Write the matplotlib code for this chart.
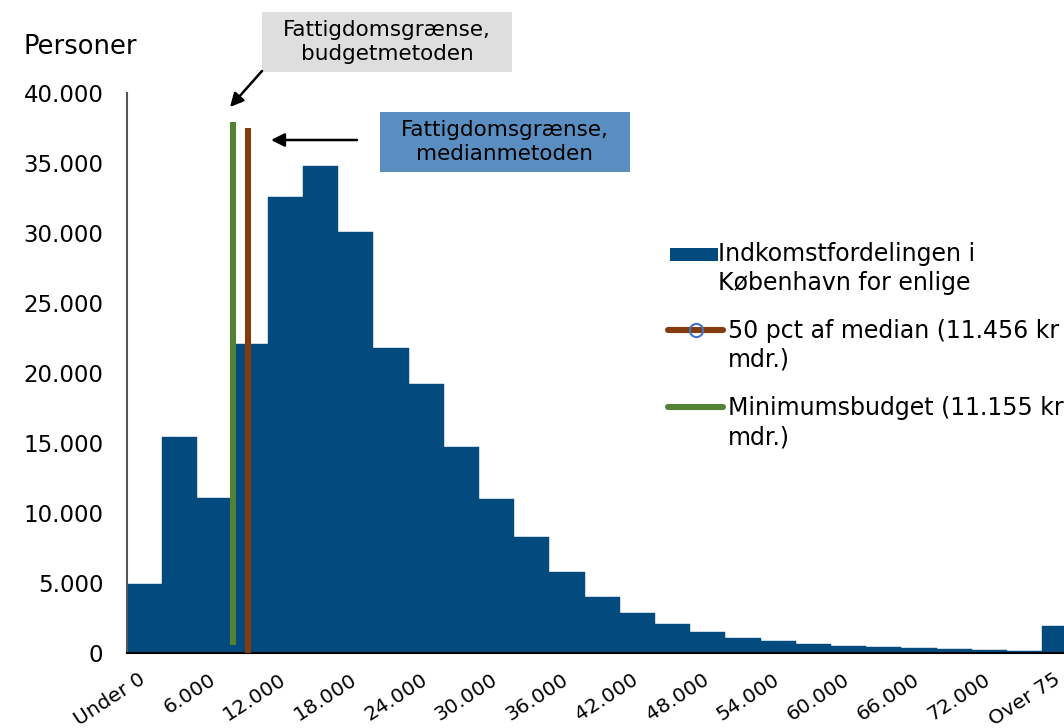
import numpy as np
import matplotlib.pyplot as plt
from matplotlib.lines import Line2D
from matplotlib.patches import Rectangle
from matplotlib.transforms import ScaledTranslation

plt.rcParams['font.family'] = ['DejaVu Sans']

# income groups (kr per month), tick labels shown on every second group
categories = ['Under 0'] + ['{:,}'.format(v).replace(',', '.') for v in range(3000, 75001, 3000)] + ['Over 75']
persons = [4950, 15400, 11100, 22100, 32600, 34800, 30100, 21800, 19200, 14700,
           11000, 8300, 5760, 4000, 2840, 2050, 1480, 1070, 840, 640,
           500, 430, 340, 260, 190, 160, 1900]

# poverty lines (kr per month) and the extent of the vertical lines (persons)
median_line = 11456
median_span = [0, 37500]
budget_line = 11155
budget_span = [600, 37900]

bar_color = '#034A7E'
green = '#548235'
brown = '#843C0C'

W, H = 1064, 728


def fx(px):
    return px / W


def fy(py):
    return 1 - py / H


fig = plt.figure(figsize=(10.64, 7.28), dpi=100)
ax = fig.add_axes([0.1194, 0.103, 0.8806, 0.7692])

x = np.arange(len(categories))
ax.bar(x, persons, width=1.0, color=bar_color, edgecolor=bar_color, linewidth=0.3)
ax.set_xlim(-0.5, 26.12)
ax.set_ylim(0, 40000)
ax.set_yticks(np.arange(0, 40001, 5000))
ax.set_yticklabels(['{:,}'.format(v).replace(',', '.') for v in range(0, 40001, 5000)], fontsize=16.5)
ax.set_xticks(x[::2])
ax.set_xticklabels(categories[::2], rotation=33, ha='right', va='top',
                   rotation_mode='anchor', fontsize=14.5)
ax.tick_params(axis='y', length=0, pad=17)
ax.tick_params(axis='x', length=0, pad=12)
for lab in ax.get_xticklabels():
    lab.set_transform(lab.get_transform() + ScaledTranslation(-0.06, 0, fig.dpi_scale_trans))
for s in ['top', 'right']:
    ax.spines[s].set_visible(False)
ax.spines['left'].set_color('#555555')
ax.spines['left'].set_linewidth(1.5)
ax.spines['bottom'].set_color('black')
ax.spines['bottom'].set_linewidth(1.5)

# secondary x axis (kr) for the poverty lines
ax2 = ax.twiny()
ax2.set_xlim(9148, 26954)
ax2.set_ylim(0, 40000)
ax2.axis('off')
ax2.plot([budget_line, budget_line], budget_span, color=green, lw=4.4, solid_capstyle='butt')
ax2.plot([median_line, median_line], median_span, color=brown, lw=4.4, solid_capstyle='butt')

fig.text(fx(24), fy(47), 'Personer', fontsize=18.5, va='center', ha='left')

# annotation boxes with arrows
fig.add_artist(Rectangle((fx(262), fy(72)), fx(250), 60 / H, transform=fig.transFigure,
                         fc='#DEDEDE', ec='none'))
fig.text(fx(387), fy(42), 'Fattigdomsgrænse,\nbudgetmetoden', fontsize=15.5,
         ha='center', va='center', linespacing=1.25)
fig.add_artist(Rectangle((fx(380), fy(172)), fx(250), 60 / H, transform=fig.transFigure,
                         fc='#5A8EC0', ec='none'))
fig.text(fx(505), fy(142), 'Fattigdomsgrænse,\nmedianmetoden', fontsize=15.5,
         ha='center', va='center', linespacing=1.25)
fig.add_artist(plt.Annotation('', xy=(fx(230), fy(107)), xytext=(fx(262), fy(71)),
                              xycoords='figure fraction', textcoords='figure fraction',
                              arrowprops=dict(arrowstyle='-|>', color='black', lw=1.8,
                                              mutation_scale=20, shrinkA=0, shrinkB=0)))
fig.add_artist(plt.Annotation('', xy=(fx(271), fy(140)), xytext=(fx(357), fy(140)),
                              xycoords='figure fraction', textcoords='figure fraction',
                              arrowprops=dict(arrowstyle='-|>', color='black', lw=1.8,
                                              mutation_scale=20, shrinkA=0, shrinkB=0)))

# legend, built by hand so the keys line up with the first text line
LFS = 17


def legend_text(px, py, lines):
    for i, line in enumerate(lines):
        fig.text(fx(px), fy(py + 29 * i), line, fontsize=LFS, ha='left', va='center')


fig.add_artist(Rectangle((fx(670), fy(261)), fx(48), 13 / H, transform=fig.transFigure,
                         fc=bar_color, ec='none'))
legend_text(718, 254, ['Indkomstfordelingen i', 'København for enlige'])
fig.add_artist(Line2D([fx(668), fx(723)], [fy(330), fy(330)], transform=fig.transFigure,
                      color=brown, lw=4.4, solid_capstyle='round'))
fig.add_artist(Line2D([fx(696)], [fy(330)], transform=fig.transFigure, marker='o',
                      markersize=9.5, markerfacecolor='none', markeredgecolor='#4472C4',
                      markeredgewidth=1.5))
legend_text(728, 331, ['50 pct af median (11.456 kr', 'mdr.)'])
fig.add_artist(Line2D([fx(668), fx(723)], [fy(407), fy(407)], transform=fig.transFigure,
                      color=green, lw=4.4, solid_capstyle='round'))
legend_text(728, 408, ['Minimumsbudget (11.155 kr', 'mdr.)'])

fig.savefig('out.png', dpi=100)
